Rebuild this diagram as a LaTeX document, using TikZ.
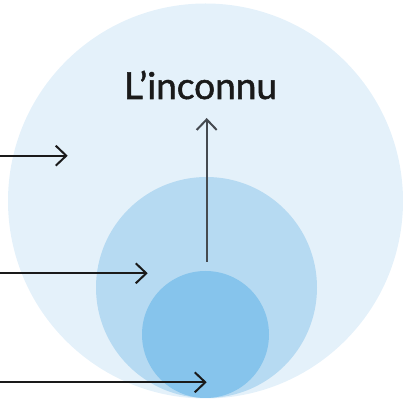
\documentclass[tikz,border=0pt]{standalone}
\usepackage{fontspec}
\setmainfont{Lato}
\newfontfamily\lblfont{Lato}[FakeBold=1.4]
\usetikzlibrary{arrows.meta}
\definecolor{cbig}{HTML}{E4F1FA}
\definecolor{cmid}{HTML}{B6DAF2}
\definecolor{csmall}{HTML}{86C4EC}
\definecolor{carr}{HTML}{1A1A1A}
\definecolor{cvert}{HTML}{454A50}
\begin{document}
\begin{tikzpicture}[x=1pt,y=-1pt,
  disc/.style={circle, inner sep=0pt, draw=none},
  arr/.style={line width=2pt, draw=carr, -{Straight Barb[length=10.5pt,width=20pt,line width=2pt]}},
  varr/.style={line width=2pt, draw=cvert, -{Straight Barb[length=10.5pt,width=20pt,line width=2pt]}}]
\useasboundingbox (0,0) rectangle (405,403);
\node[disc, fill=cbig, minimum size=395pt] (big) at (205.5,201) {};
\node[disc, fill=cmid, minimum size=221pt] (mid) at (206.5,287.5) {};
\node[disc, fill=csmall, minimum size=127pt] (small) at (205.5,334.5) {};
\node[anchor=base, inner sep=0pt, text=carr, font=\lblfont\fontsize{37}{40}\selectfont] (lbl) at (200.5,99) {L’inconnu};
\coordinate (vs) at (206.7,262);
\coordinate (ve) at (206.7,118);
\draw[varr] (vs) -- (ve);
\coordinate (a1s) at (0,155.7);
\coordinate (a1e) at (67.7,155.7);
\coordinate (a2s) at (0,273.3);
\coordinate (a2e) at (147.7,273.3);
\coordinate (a3s) at (0,382.3);
\coordinate (a3e) at (206.7,382.3);
\draw[arr] (a1s) -- (a1e);
\draw[arr] (a2s) -- (a2e);
\draw[arr] (a3s) -- (a3e);
\end{tikzpicture}
\end{document}
